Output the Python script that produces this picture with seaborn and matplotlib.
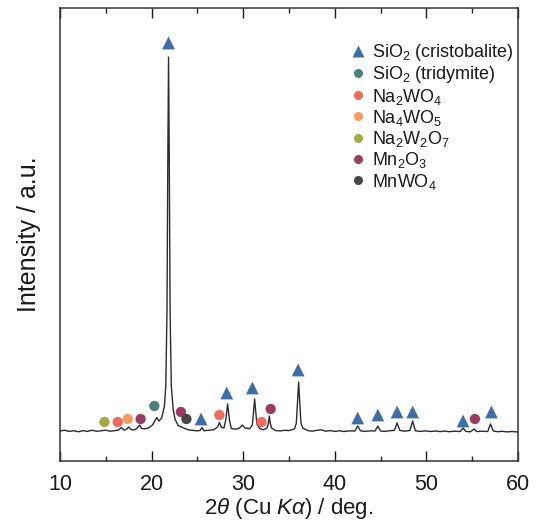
import matplotlib
matplotlib.use("Agg")
import matplotlib.pyplot as plt
import seaborn as sns
import pandas as pd
from matplotlib.lines import Line2D
from matplotlib.ticker import MultipleLocator

# ---------------- data ----------------
two_theta = [10.0, 10.5, 11.0, 11.5, 12.0, 12.5, 13.0, 13.5, 14.0, 14.5, 15.0, 15.5, 16.0,
             16.4, 16.7, 17.0, 17.3, 17.5, 17.8, 18.2, 18.5, 18.7, 18.9, 19.3, 19.7, 20.1,
             20.4, 20.57, 20.8, 21.1, 21.4, 21.55, 21.68, 21.77, 21.85, 21.93, 22.02, 22.15,
             22.35, 22.55, 22.9, 23.3, 24.0, 24.5, 25.0, 25.3, 25.5, 25.7, 26.2, 26.8, 27.2,
             27.4, 27.6, 27.9, 28.1, 28.3, 28.5, 28.7, 29.2, 29.6, 29.9, 30.2, 30.7, 31.0,
             31.12, 31.25, 31.38, 31.5, 31.8, 32.2, 32.6, 32.75, 32.85, 32.95, 33.1, 33.5,
             34.0, 34.5, 35.0, 35.6, 35.8, 35.95, 36.05, 36.15, 36.3, 36.5, 37.0, 37.5,
             38.0, 38.5, 39.0, 39.5, 40.0, 40.5, 41.0, 41.5, 42.2, 42.5, 42.8, 43.3, 43.9,
             44.4, 44.7, 45.0, 45.5, 46.0, 46.5, 46.8, 47.1, 47.6, 48.2, 48.5, 48.8, 49.3,
             49.9, 50.5, 51.0, 51.5, 52.0, 52.5, 53.0, 53.7, 54.0, 54.3, 54.8, 55.2, 55.5,
             56.0, 56.7, 57.0, 57.3, 57.8, 58.3, 58.8, 59.3, 60.0]
intensity = [30.0, 30.8, 29.6, 30.3, 29.2, 30.4, 29.6, 30.8, 29.7, 30.3, 30.8, 29.8, 30.4,
             31.0, 33.5, 30.8, 32.0, 34.0, 31.2, 31.3, 33.5, 36.0, 32.5, 32.2, 33.2, 36.0,
             41.0, 43.5, 40.0, 43.0, 55.0, 75.0, 150.0, 300.0, 404.0, 300.0, 150.0, 75.0,
             52.0, 42.0, 35.5, 33.8, 31.2, 30.6, 30.1, 30.6, 33.5, 30.3, 30.7, 31.3, 34.0,
             38.5, 34.0, 33.0, 41.0, 57.0, 41.0, 32.5, 31.8, 33.0, 36.0, 33.0, 32.3, 36.0,
             48.0, 62.0, 48.0, 37.0, 32.5, 31.2, 33.0, 38.0, 45.0, 38.0, 33.0, 30.6,
             30.0, 30.7, 30.4, 32.0, 38.0, 62.0, 79.0, 62.0, 38.0, 33.0, 30.6, 29.8,
             30.6, 31.2, 29.8, 30.4, 29.6, 30.2, 29.5, 30.1, 30.0, 35.0, 30.2, 29.6, 30.2,
             30.0, 35.0, 30.0, 29.6, 30.3, 30.6, 38.0, 30.6, 29.8, 30.5, 40.0, 30.2, 29.6,
             30.1, 29.5, 30.0, 29.4, 29.9, 29.3, 29.8, 29.5, 33.0, 29.6, 29.2, 32.0, 29.4,
             29.8, 29.5, 37.0, 30.0, 29.3, 29.7, 29.1, 29.5, 29.0]

cristobalite_x = [21.85, 25.4, 28.2, 31.0, 36.0, 42.5, 44.7, 46.8, 48.5, 54.0, 57.1]
cristobalite_y = [418, 42, 68, 73, 91, 43, 46, 49, 49, 40, 49]
tridymite_x = [20.3]
tridymite_y = [55]
na2wo4_x = [16.3, 27.4, 32.0]
na2wo4_y = [39, 46, 39]
na4wo5_x = [17.4]
na4wo5_y = [42]
na2w2o7_x = [14.85]
na2w2o7_y = [39]
mn2o3_x = [18.8, 23.2, 33.0, 55.3]
mn2o3_y = [42, 49, 52, 42]
mnwo4_x = [23.8]
mnwo4_y = [42]

phase_labels = ["SiO$_2$ (cristobalite)", "SiO$_2$ (tridymite)", "Na$_2$WO$_4$",
                "Na$_4$WO$_5$", "Na$_2$W$_2$O$_7$", "Mn$_2$O$_3$", "MnWO$_4$"]
phase_colors = ["#3f6ea6", "#4f7f7a", "#ef6b60", "#f59b63", "#a5a845", "#9a3c62", "#474747"]
phase_markers = ["^", "o", "o", "o", "o", "o", "o"]

x_ticks = [10, 20, 30, 40, 50, 60]
x_label = "2$\\theta$ (Cu $K\\alpha$) / deg."
y_label = "Intensity / a.u."

# ---------------- style ----------------
sns.set_theme(style="white")
plt.rcParams["font.family"] = ["Liberation Sans", "DejaVu Sans"]
plt.rcParams["mathtext.fontset"] = "custom"
plt.rcParams["mathtext.rm"] = "Liberation Sans"
plt.rcParams["mathtext.it"] = "Liberation Sans:italic"
plt.rcParams["mathtext.bf"] = "Liberation Sans:bold"

fig = plt.figure(figsize=(5.42, 5.25), dpi=100)
ax = fig.add_axes([60 / 542, 1 - 461 / 525, 458 / 542, 453 / 525])

trace = pd.DataFrame({"two_theta": two_theta, "intensity": intensity})
sns.lineplot(data=trace, x="two_theta", y="intensity", ax=ax, color="#2b2b2b",
             linewidth=1.0, sort=False, estimator=None)

phase_xs = [cristobalite_x, tridymite_x, na2wo4_x, na4wo5_x, na2w2o7_x, mn2o3_x, mnwo4_x]
phase_ys = [cristobalite_y, tridymite_y, na2wo4_y, na4wo5_y, na2w2o7_y, mn2o3_y, mnwo4_y]
for xs, ys, lab, col, mk in zip(phase_xs, phase_ys, phase_labels, phase_colors, phase_markers):
    df = pd.DataFrame({"x": xs, "y": ys})
    size = 85 if mk == "^" else 55
    sns.scatterplot(data=df, x="x", y="y", ax=ax, color=col, marker=mk, s=size,
                    edgecolor="none", legend=False, zorder=3)

ax.set_xlim(10, 60)
ax.set_ylim(0, 453)
ax.set_xticks(x_ticks)
ax.set_xticklabels([str(t) for t in x_ticks])
ax.xaxis.set_minor_locator(MultipleLocator(5))
ax.set_yticks([])
ax.tick_params(axis="x", which="major", direction="in", length=7, width=1.0,
               top=True, bottom=True, labelsize=15.5, colors="#1a1a1a", pad=9)
ax.tick_params(axis="x", which="minor", direction="in", length=3.5, width=1.0,
               top=True, bottom=True)
for sp in ax.spines.values():
    sp.set_visible(True)
    sp.set_color("#333333")
    sp.set_linewidth(1.1)

ax.set_xlabel(x_label, fontsize=16, color="#1a1a1a", labelpad=1)
ax.set_ylabel(y_label, fontsize=18, color="#1a1a1a", labelpad=14)

handles = []
for lab, col, mk in zip(phase_labels, phase_colors, phase_markers):
    ms = 8.5 if mk == "^" else 6.5
    handles.append(Line2D([], [], linestyle="none", marker=mk, color=col,
                          markersize=ms, markeredgecolor="none", label=lab))
leg = ax.legend(handles=handles, loc="upper left", bbox_to_anchor=(0.635, 0.925),
                frameon=False, fontsize=13, handlelength=0.8, handletextpad=0.35,
                labelspacing=0.07, borderpad=0, borderaxespad=0)
for t in leg.get_texts():
    t.set_color("#1a1a1a")

fig.savefig("out.png", dpi=100)
